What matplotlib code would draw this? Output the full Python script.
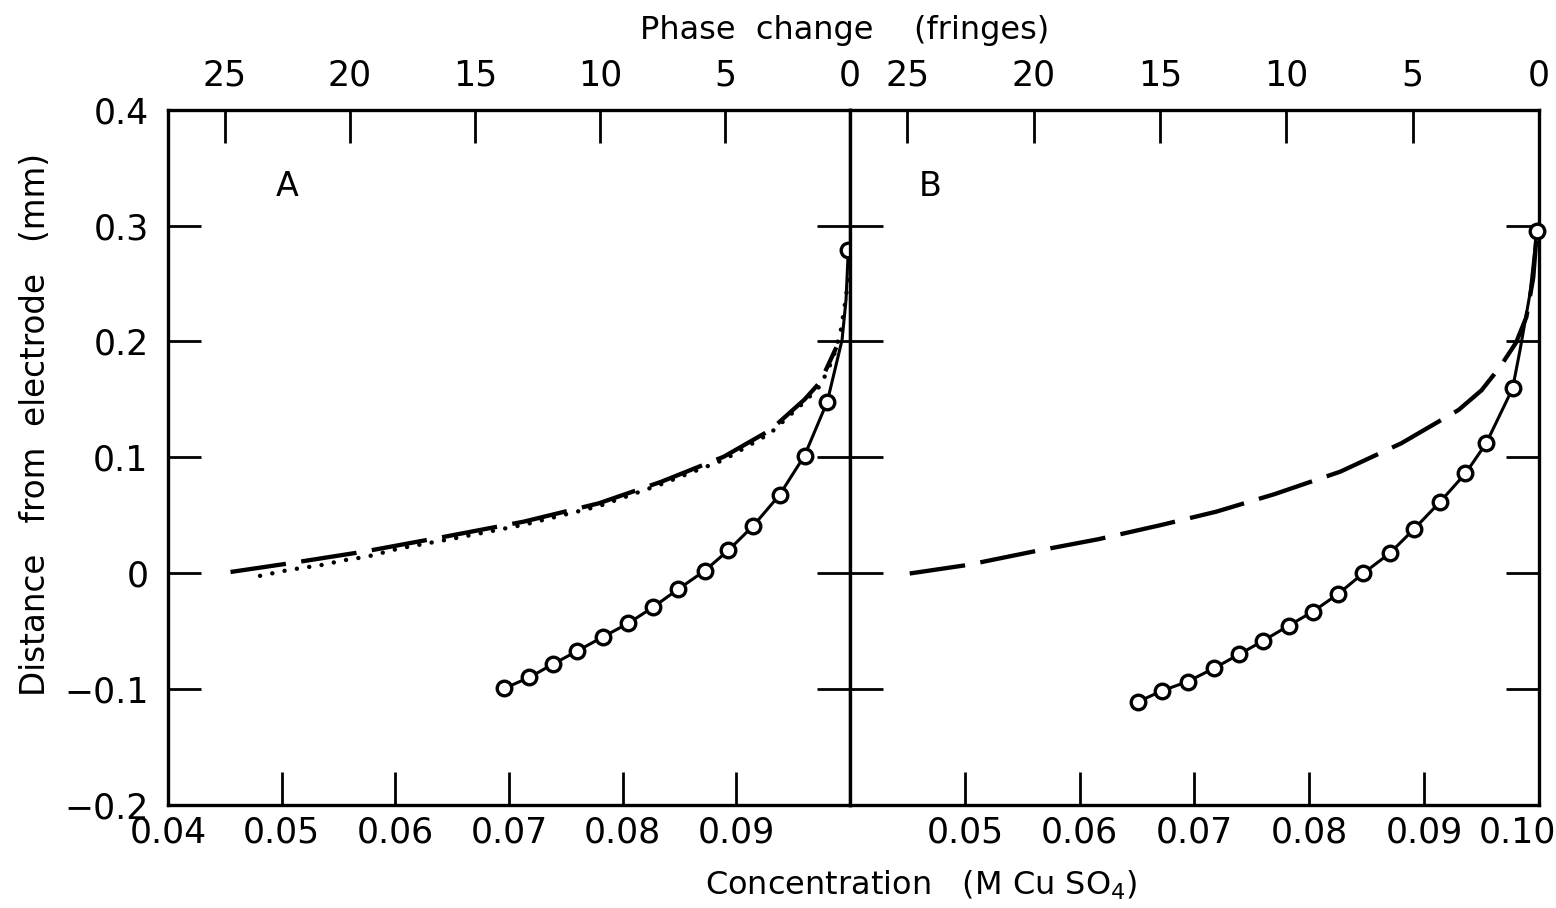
import matplotlib
matplotlib.use("Agg")
import matplotlib.pyplot as plt
import matplotlib.transforms as mtransforms

# ---------------- data ----------------
# Panel A: measured points (open circles) -- concentration (M) vs distance (mm)
A_circ_c = [0.0696, 0.0718, 0.0739, 0.0760, 0.0783, 0.0805, 0.0827, 0.0849,
            0.0872, 0.0893, 0.0915, 0.0938, 0.0960, 0.0980, 0.09985]
A_circ_d = [-0.099, -0.0895, -0.078, -0.0668, -0.0545, -0.0429, -0.0289, -0.0134,
            0.0022, 0.0200, 0.0412, 0.0677, 0.1016, 0.1481, 0.2789]
# solid curve through the circles (extra points read near the electrode end)
A_line_c = A_circ_c[:-1] + [0.0993, 0.09965, 0.09985]
A_line_d = A_circ_d[:-1] + [0.2013, 0.2358, 0.2789]

# Panel A: dashed curve
A_dash_c = [0.0455, 0.0507, 0.0572, 0.0645, 0.0713, 0.0779, 0.0834, 0.0889,
            0.0930, 0.0960, 0.0974, 0.0988]
A_dash_d = [0.0013, 0.0088, 0.0188, 0.0320, 0.0447, 0.0605, 0.0791, 0.1007,
            0.1237, 0.1500, 0.1653, 0.1950]
# Panel A: dotted curve
A_dot_c = [0.0481, 0.0506, 0.0535, 0.0556, 0.0575, 0.0604, 0.0652, 0.0713,
           0.0779, 0.0834, 0.0889, 0.0930, 0.0960, 0.0974, 0.0985, 0.0992,
           0.0996, 0.0999]
A_dot_d = [-0.002, 0.003, 0.0073, 0.0116, 0.0145, 0.0217, 0.0303, 0.042,
           0.058, 0.077, 0.098, 0.121, 0.148, 0.162, 0.185, 0.210,
           0.235, 0.258]

# Panel B: measured points
B_circ_c = [0.0651, 0.0672, 0.0694, 0.0717, 0.0739, 0.0760, 0.0782, 0.0803,
            0.0825, 0.0847, 0.0870, 0.0891, 0.0914, 0.0936, 0.0954, 0.0977, 0.0998]
B_circ_d = [-0.1105, -0.1010, -0.0932, -0.0817, -0.0696, -0.0579, -0.0450, -0.0329,
            -0.0177, 0.0002, 0.0174, 0.0381, 0.0619, 0.0863, 0.1122, 0.1595, 0.2955]
B_line_c = B_circ_c[:-1] + [0.09835, 0.09922, 0.0996, 0.0998]
B_line_d = B_circ_d[:-1] + [0.1927, 0.2416, 0.2760, 0.2955]

# Panel B: dashed curve
B_dash_c = [0.0452, 0.0502, 0.0559, 0.0616, 0.0671, 0.0719, 0.0770, 0.0827,
            0.0880, 0.0930, 0.0950, 0.0966, 0.0980, 0.0989, 0.0995, 0.0998]
B_dash_d = [0.0000, 0.0073, 0.0188, 0.0295, 0.0418, 0.0533, 0.0685, 0.0878,
            0.1122, 0.1410, 0.1580, 0.1780, 0.1990, 0.2210, 0.2550, 0.2930]

# axes ticks / labels
y_ticks = [0.4, 0.3, 0.2, 0.1, 0.0, -0.1, -0.2]
y_ticklabels = ["0.4", "0.3", "0.2", "0.1", "0", "\u22120.1", "\u22120.2"]
A_xticks = [0.04, 0.05, 0.06, 0.07, 0.08, 0.09]
A_xticklabels = ["0.04", "0.05", "0.06", "0.07", "0.08", "0.09"]
B_xticks = [0.05, 0.06, 0.07, 0.08, 0.09, 0.10]
B_xticklabels = ["0.05", "0.06", "0.07", "0.08", "0.09", "0.10"]
fringe_ticks = [25, 20, 15, 10, 5, 0]
fringe_ticklabels = ["25", "20", "15", "10", "5", "0"]
M_PER_FRINGE = 0.0022   # concentration change per fringe

XMIN, XMAX = 0.04, 0.10
YMIN, YMAX = -0.2, 0.4

# ---------------- figure ----------------
plt.rcParams["font.family"] = ["DejaVu Sans"]
fig = plt.figure(figsize=(15.56, 9.08), dpi=100)

bottom = 0.1129
height = 0.7665
axA = fig.add_axes([0.10797, bottom, 0.4383, height])
axB = fig.add_axes([0.54627, bottom, 0.4428, height])

TICKLEN = 23.5
TICKW = 2.0
SPINEW = 2.4
FS = 25

for ax in (axA, axB):
    ax.set_xlim(XMIN, XMAX)
    ax.set_ylim(YMIN, YMAX)
    for s in ax.spines.values():
        s.set_linewidth(SPINEW)
    ax.set_yticks([0.3, 0.2, 0.1, 0.0, -0.1])
    ax.tick_params(axis="both", direction="in", length=TICKLEN, width=TICKW,
                   labelsize=FS, left=True, right=True, top=False, bottom=True)
    ax.tick_params(axis="x", pad=7)
    ax.tick_params(axis="y", pad=14, labelleft=False)
    # top fringe axis
    top = ax.twiny()
    top.set_xlim((0.10 - XMIN) / M_PER_FRINGE, (0.10 - XMAX) / M_PER_FRINGE)
    top.set_xticks(fringe_ticks)
    top.set_xticklabels(fringe_ticklabels)
    top.tick_params(axis="x", direction="in", length=TICKLEN, width=TICKW,
                    labelsize=FS, pad=12)
    for s in top.spines.values():
        s.set_visible(False)

# y tick labels only on the left panel
axA.set_yticks(y_ticks)
axA.set_yticklabels(y_ticklabels)
axA.tick_params(axis="y", labelleft=True)
axA.set_ylim(YMIN, YMAX)

axA.set_xticks(A_xticks)
axA.set_xticklabels(A_xticklabels)
axB.set_xticks(B_xticks)
axB.set_xticklabels(B_xticklabels)
# shift last label "0.10" a bit left as in the original lettering
lab = axB.get_xticklabels()[-1]
lab.set_transform(lab.get_transform() +
                  mtransforms.ScaledTranslation(-22 / 100, 0, fig.dpi_scale_trans))

# ---------------- curves ----------------
LW = 2.2
# Panel A
axA.plot(A_line_c, A_line_d, color="black", lw=LW, zorder=3)
axA.plot(A_circ_c, A_circ_d, linestyle="none", marker="o", ms=10.5, mew=2.4,
         mfc="white", mec="black", zorder=4, clip_on=False)
axA.plot(A_dash_c, A_dash_d, color="black", lw=3.1, linestyle=(0, (13.0, 3.6)),
         zorder=3)
axA.plot(A_dot_c, A_dot_d, color="black", lw=3.2, linestyle=(0, (0.01, 2.8)),
         dash_capstyle="round", zorder=3)

# Panel B
axB.plot(B_line_c, B_line_d, color="black", lw=LW, zorder=3)
axB.plot(B_circ_c, B_circ_d, linestyle="none", marker="o", ms=10.5, mew=2.4,
         mfc="white", mec="black", zorder=4, clip_on=False)
axB.plot(B_dash_c, B_dash_d, color="black", lw=3.1, linestyle=(0, (13.0, 3.6)),
         zorder=3)

# panel letters
axA.text(0.1745, 0.889, "A", transform=axA.transAxes, fontsize=24,
         ha="center", va="center")
axB.text(0.116, 0.889, "B", transform=axB.transAxes, fontsize=24,
         ha="center", va="center")

# axis titles
fig.text(0.543, 0.966, "Phase  change    (fringes)", fontsize=23,
         ha="center", va="center")
fig.text(0.592, 0.025, "Concentration   (M Cu SO$_4$)", fontsize=23,
         ha="center", va="center")
fig.text(0.0225, 0.532, "Distance   from  electrode   (mm)", fontsize=23.5,
         ha="center", va="center", rotation=90)

fig.savefig("out.png", dpi=100, facecolor="white")
